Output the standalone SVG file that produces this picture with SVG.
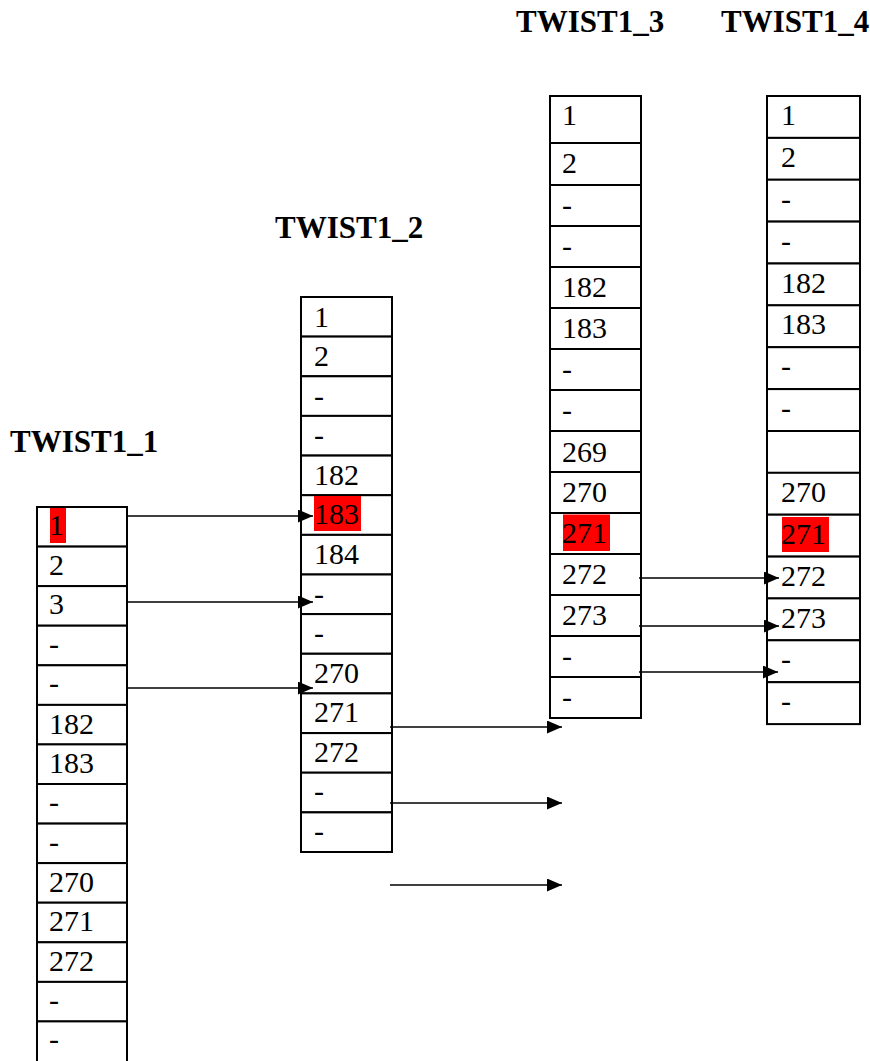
<svg xmlns="http://www.w3.org/2000/svg" width="870" height="1061" viewBox="0 0 870 1061">
<style>
.cell{fill:#fff;stroke:#000;stroke-width:2}
.t{font-family:'Liberation Serif','DejaVu Serif',serif;font-size:30px;fill:#000}
.h{font-family:'Liberation Serif','DejaVu Serif',serif;font-size:31px;font-weight:bold;fill:#000}
.hl{fill:#ff0000}
.c{stroke:#000;stroke-width:1.5;fill:none;marker-end:url(#ah)}
</style>
<defs>
<marker id="ah" markerUnits="userSpaceOnUse" markerWidth="15" markerHeight="13" refX="15" refY="6.5" orient="auto">
<path d="M0,0 L15,6.5 L0,13 Z" fill="#000"/>
</marker>
</defs>
<rect width="870" height="1061" fill="#fff"/>
<g id="headers">
<text class="h" x="10" y="452">TWIST1_1</text>
<text class="h" x="275" y="238">TWIST1_2</text>
<text class="h" x="516" y="32">TWIST1_3</text>
<text class="h" x="721" y="32">TWIST1_4</text>
</g>
<g id="twist1_1">
<rect class="cell" x="37" y="507" width="90" height="39.6"/>
<rect class="cell" x="37" y="546.6" width="90" height="39.6"/>
<rect class="cell" x="37" y="586.1" width="90" height="39.6"/>
<rect class="cell" x="37" y="625.7" width="90" height="39.6"/>
<rect class="cell" x="37" y="665.3" width="90" height="39.6"/>
<rect class="cell" x="37" y="704.9" width="90" height="39.6"/>
<rect class="cell" x="37" y="744.4" width="90" height="39.6"/>
<rect class="cell" x="37" y="784" width="90" height="39.6"/>
<rect class="cell" x="37" y="823.6" width="90" height="39.6"/>
<rect class="cell" x="37" y="863.1" width="90" height="39.6"/>
<rect class="cell" x="37" y="902.7" width="90" height="39.6"/>
<rect class="cell" x="37" y="942.3" width="90" height="39.6"/>
<rect class="cell" x="37" y="981.9" width="90" height="39.6"/>
<rect class="cell" x="37" y="1021.4" width="90" height="50"/>
<rect class="hl" x="50" y="508" width="16" height="35"/>
<text class="t" x="49" y="535">1</text>
<text class="t" x="49" y="575">2</text>
<text class="t" x="49" y="614">3</text>
<text class="t" x="49" y="654">-</text>
<text class="t" x="49" y="693">-</text>
<text class="t" x="49" y="734">182</text>
<text class="t" x="49" y="773">183</text>
<text class="t" x="49" y="812">-</text>
<text class="t" x="49" y="852">-</text>
<text class="t" x="49" y="892">270</text>
<text class="t" x="49" y="931">271</text>
<text class="t" x="49" y="971">272</text>
<text class="t" x="49" y="1010">-</text>
<text class="t" x="49" y="1049">-</text>
</g>
<g id="twist1_2">
<rect class="cell" x="301" y="297" width="91" height="39.6"/>
<rect class="cell" x="301" y="336.6" width="91" height="39.6"/>
<rect class="cell" x="301" y="376.3" width="91" height="39.6"/>
<rect class="cell" x="301" y="415.9" width="91" height="39.6"/>
<rect class="cell" x="301" y="455.6" width="91" height="39.6"/>
<rect class="cell" x="301" y="495.2" width="91" height="39.6"/>
<rect class="cell" x="301" y="534.9" width="91" height="39.6"/>
<rect class="cell" x="301" y="574.5" width="91" height="39.6"/>
<rect class="cell" x="301" y="614.1" width="91" height="39.6"/>
<rect class="cell" x="301" y="653.8" width="91" height="39.6"/>
<rect class="cell" x="301" y="693.4" width="91" height="39.6"/>
<rect class="cell" x="301" y="733.1" width="91" height="39.6"/>
<rect class="cell" x="301" y="772.7" width="91" height="39.6"/>
<rect class="cell" x="301" y="812.4" width="91" height="39.6"/>
<rect class="hl" x="314" y="496" width="47" height="35"/>
<text class="t" x="314" y="327">1</text>
<text class="t" x="314" y="366">2</text>
<text class="t" x="314" y="406">-</text>
<text class="t" x="314" y="445">-</text>
<text class="t" x="314" y="485">182</text>
<text class="t" x="314" y="524">183</text>
<text class="t" x="314" y="564">184</text>
<text class="t" x="314" y="604">-</text>
<text class="t" x="314" y="643">-</text>
<text class="t" x="314" y="683">270</text>
<text class="t" x="314" y="722">271</text>
<text class="t" x="314" y="762">272</text>
<text class="t" x="314" y="801">-</text>
<text class="t" x="314" y="841">-</text>
</g>
<g id="twist1_3">
<rect class="cell" x="550" y="96" width="91" height="47"/>
<rect class="cell" x="550" y="143" width="91" height="42"/>
<rect class="cell" x="550" y="185" width="91" height="41"/>
<rect class="cell" x="550" y="226" width="91" height="41"/>
<rect class="cell" x="550" y="267" width="91" height="41"/>
<rect class="cell" x="550" y="308" width="91" height="41"/>
<rect class="cell" x="550" y="349" width="91" height="41"/>
<rect class="cell" x="550" y="390" width="91" height="41"/>
<rect class="cell" x="550" y="431" width="91" height="41"/>
<rect class="cell" x="550" y="472" width="91" height="41"/>
<rect class="cell" x="550" y="513" width="91" height="41"/>
<rect class="cell" x="550" y="554" width="91" height="41"/>
<rect class="cell" x="550" y="595" width="91" height="41"/>
<rect class="cell" x="550" y="636" width="91" height="41"/>
<rect class="cell" x="550" y="677" width="91" height="41"/>
<rect class="hl" x="563" y="514.5" width="47" height="36.5"/>
<text class="t" x="562" y="125">1</text>
<text class="t" x="562" y="173">2</text>
<text class="t" x="562" y="215">-</text>
<text class="t" x="562" y="256">-</text>
<text class="t" x="562" y="297">182</text>
<text class="t" x="562" y="338">183</text>
<text class="t" x="562" y="379">-</text>
<text class="t" x="562" y="420">-</text>
<text class="t" x="562" y="462">269</text>
<text class="t" x="562" y="502">270</text>
<text class="t" x="562" y="543">271</text>
<text class="t" x="562" y="584">272</text>
<text class="t" x="562" y="625">273</text>
<text class="t" x="562" y="666">-</text>
<text class="t" x="562" y="707">-</text>
</g>
<g id="twist1_4">
<rect class="cell" x="767" y="96" width="93" height="41.9"/>
<rect class="cell" x="767" y="137.9" width="93" height="41.9"/>
<rect class="cell" x="767" y="179.7" width="93" height="41.9"/>
<rect class="cell" x="767" y="221.6" width="93" height="41.9"/>
<rect class="cell" x="767" y="263.5" width="93" height="41.9"/>
<rect class="cell" x="767" y="305.3" width="93" height="41.9"/>
<rect class="cell" x="767" y="347.2" width="93" height="41.9"/>
<rect class="cell" x="767" y="389.1" width="93" height="41.9"/>
<rect class="cell" x="767" y="431" width="93" height="41.9"/>
<rect class="cell" x="767" y="472.8" width="93" height="41.9"/>
<rect class="cell" x="767" y="514.7" width="93" height="41.9"/>
<rect class="cell" x="767" y="556.6" width="93" height="41.9"/>
<rect class="cell" x="767" y="598.4" width="93" height="41.9"/>
<rect class="cell" x="767" y="640.3" width="93" height="41.9"/>
<rect class="cell" x="767" y="682.2" width="93" height="41.9"/>
<rect class="hl" x="782" y="517" width="47" height="35"/>
<text class="t" x="781" y="125">1</text>
<text class="t" x="781" y="167">2</text>
<text class="t" x="781" y="209">-</text>
<text class="t" x="781" y="251">-</text>
<text class="t" x="781" y="293">182</text>
<text class="t" x="781" y="334">183</text>
<text class="t" x="781" y="376">-</text>
<text class="t" x="781" y="418">-</text>
<text class="t" x="781" y="502">270</text>
<text class="t" x="781" y="544">271</text>
<text class="t" x="781" y="586">272</text>
<text class="t" x="781" y="628">273</text>
<text class="t" x="781" y="669">-</text>
<text class="t" x="781" y="711">-</text>
</g>
<g id="connectors">
<line class="c" x1="128" y1="516" x2="313" y2="516"/>
<line class="c" x1="128" y1="602" x2="313" y2="602"/>
<line class="c" x1="128" y1="688" x2="313" y2="688"/>
<line class="c" x1="390" y1="727" x2="562" y2="727"/>
<line class="c" x1="390" y1="803" x2="562" y2="803"/>
<line class="c" x1="390" y1="885" x2="562" y2="885"/>
<line class="c" x1="639" y1="578" x2="779" y2="578"/>
<line class="c" x1="639" y1="626" x2="779" y2="626"/>
<line class="c" x1="639" y1="672" x2="778" y2="672"/>
</g>
</svg>
